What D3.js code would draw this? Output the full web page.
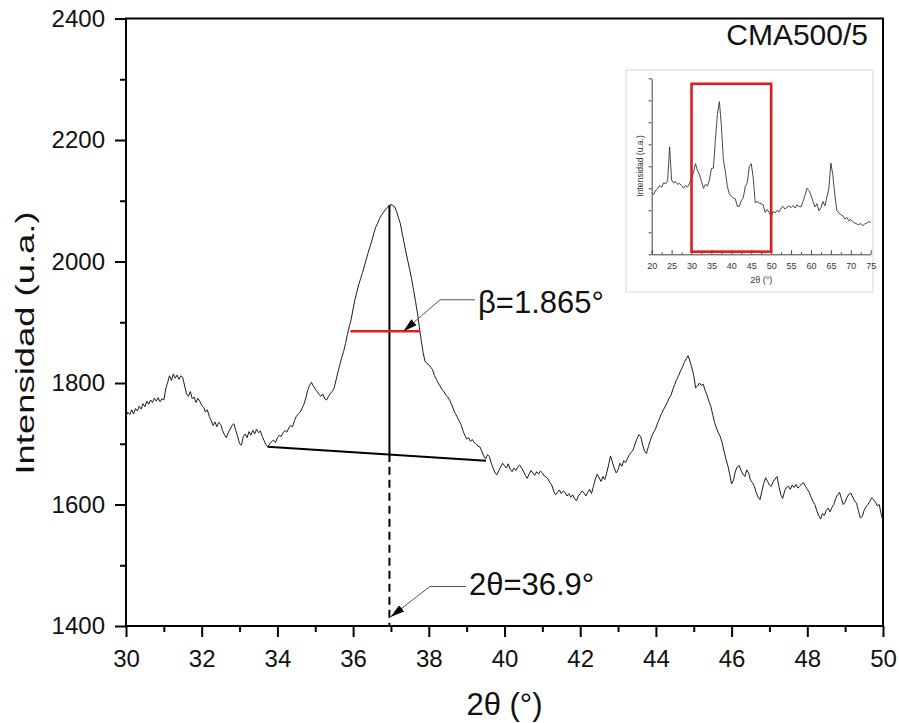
<!DOCTYPE html>
<html>
<head>
<meta charset="utf-8">
<script src="https://cdn.jsdelivr.net/npm/d3@7"></script>
<style>
body { margin: 0; background: #fff; }
svg { display: block; font-family: "Liberation Sans", Arial, sans-serif; }
</style>
</head>
<body>
<svg id="chart" width="899" height="723"></svg>
<script>
// XRD scan CMA500/5, 2theta 30-50, one reading every 0.05 deg
const scanStart = 30, scanStep = 0.05;
const intensity = [
  1745,1752,1748,1756,1749,1758,1754,1762,1757,1766,1761,1770,1765,1772,1768,1775,1770,1776,1769,1774,
  1772,1790,1801,1812,1804,1815,1808,1813,1806,1812,1809,1795,1782,1778,1786,1774,1777,1768,1775,1770,
  1763,1760,1752,1756,1745,1738,1730,1736,1728,1735,1732,1722,1715,1710,1718,1724,1730,1733,1722,1712,
  1700,1698,1712,1716,1710,1720,1714,1722,1716,1724,1718,1721,1712,1705,1698,1695,1700,1704,1706,1702,
  1710,1714,1712,1718,1722,1719,1726,1730,1728,1738,1745,1749,1752,1758,1765,1775,1788,1796,1801,1795,
  1790,1786,1781,1778,1782,1774,1772,1778,1783,1786,1792,1805,1818,1830,1842,1852,1865,1880,1893,1905,
  1922,1938,1950,1962,1972,1982,1993,2004,2015,2025,2035,2047,2057,2063,2071,2076,2081,2085,2089,2091,
  2094,2092,2090,2082,2072,2062,2045,2030,2014,2000,1985,1970,1952,1934,1915,1892,1870,1850,1836,1832,
  1830,1826,1822,1812,1806,1800,1795,1789,1786,1780,1777,1772,1765,1757,1750,1744,1738,1732,1722,1714,
  1708,1710,1704,1707,1702,1700,1696,1695,1688,1680,1675,1682,1679,1668,1660,1652,1649,1656,1662,1668,
  1664,1660,1667,1658,1654,1660,1656,1662,1665,1660,1655,1648,1643,1650,1656,1652,1648,1654,1650,1655,
  1652,1647,1645,1642,1636,1632,1622,1616,1620,1624,1618,1622,1620,1614,1618,1612,1616,1610,1606,1614,
  1618,1622,1619,1614,1620,1625,1618,1630,1642,1650,1644,1638,1646,1641,1652,1665,1680,1670,1660,1652,
  1657,1668,1663,1672,1669,1676,1682,1686,1690,1700,1708,1715,1712,1698,1688,1684,1695,1705,1714,1720,
  1726,1735,1742,1750,1756,1762,1768,1775,1780,1790,1798,1806,1812,1820,1826,1834,1840,1845,1836,1825,
  1812,1792,1795,1800,1796,1798,1788,1780,1770,1762,1748,1735,1726,1718,1712,1702,1688,1675,1664,1650,
  1634,1640,1655,1662,1664,1656,1650,1646,1657,1652,1640,1636,1630,1620,1612,1608,1622,1635,1644,1638,
  1632,1630,1638,1642,1646,1630,1616,1610,1622,1628,1630,1625,1632,1628,1633,1627,1630,1634,1636,1630,
  1625,1620,1612,1605,1600,1590,1582,1576,1585,1582,1590,1594,1588,1595,1600,1610,1616,1620,1610,1600,
  1604,1612,1617,1619,1612,1606,1602,1590,1578,1580,1590,1596,1600,1605,1611,1608,1604,1598,1600,1585,
  1572
];

// full scan shown in the inset, 20-75, every 0.5 deg
const insetStart = 20, insetStep = 0.5;
const insetIntensity = [
  1680,1672,1692,1700,1712,1705,1725,1720,1735,1889,
  1738,1725,1730,1718,1722,1712,1700,1712,1706,1722,
  1745,1772,1812,1780,1763,1732,1700,1718,1710,1738,
  1790,1792,1922,2035,2094,1985,1830,1777,1708,1675,
  1664,1655,1652,1618,1618,1644,1657,1708,1726,1798,
  1812,1748,1634,1640,1632,1630,1625,1590,1604,1590,
  1572,1595,1588,1600,1592,1610,1618,1605,1615,1620,
  1612,1622,1610,1625,1618,1615,1640,1668,1700,1690,
  1668,1640,1615,1630,1598,1612,1640,1620,1660,1700,
  1815,1760,1668,1600,1588,1580,1575,1560,1568,1552,
  1558,1548,1542,1538,1535,1540,1530,1538,1542,1548,
  1545
];

const xTicks = [30,32,34,36,38,40,42,44,46,48,50];
const xMinor = [31,33,35,37,39,41,43,45,47,49];
const yTicks = [1400,1600,1800,2000,2200,2400];
const yMinor = [1500,1700,1900,2100,2300];
const insetXTicks = [20,25,30,35,40,45,50,55,60,65,70,75];

// annotation values
const peakPos = 36.96, peakTop = 2093;
const baseline = [[33.74,1695],[39.51,1672]];
const fwhmLevel = 1885, fwhmRange = [35.93,37.77];
const solidEnd = 1670, dashEnd = 1662;
const betaLeader = [[39.22,1937],[38.30,1937],[37.33,1885]];
const betaText = {x: 39.3, y: 1915, label: "β=1.865°"};
const thetaLeader = [[38.98,1465],[38.03,1465],[36.99,1415]];
const thetaText = {x: 39.06, y: 1451, label: "2θ=36.9°"};
const zoomBox = {x0: 30, x1: 50, y0: 1412, y1: 2175};

const svg = d3.select("#chart");

const x = d3.scaleLinear().domain([30,50]).range([126,883]);
const y = d3.scaleLinear().domain([1400,2400]).range([626,18.5]);

const scan = intensity.map((v,i) => [scanStart + i*scanStep, v]);
const line = d3.line().x(d => x(d[0])).y(d => y(d[1]));

const defs = svg.append("defs");
defs.append("marker")
  .attr("id","head")
  .attr("markerUnits","userSpaceOnUse")
  .attr("viewBox","0 0 14 8")
  .attr("refX",14).attr("refY",4)
  .attr("markerWidth",14).attr("markerHeight",8)
  .attr("orient","auto")
  .append("path").attr("d","M0,0 L14,4 L0,8 Z").attr("fill","#000");

// axes
const xAxis = svg.append("g").attr("transform",`translate(0,${y(1400)})`)
  .call(d3.axisBottom(x).tickValues(xTicks).tickSize(11).tickPadding(13).tickFormat(d3.format("d")));
const xAxisMinor = svg.append("g").attr("transform",`translate(0,${y(1400)})`)
  .call(d3.axisBottom(x).tickValues(xMinor).tickSize(6).tickFormat(""));
const yAxis = svg.append("g").attr("transform",`translate(${x(30)},0)`)
  .call(d3.axisLeft(y).tickValues(yTicks).tickSize(11).tickPadding(10).tickFormat(d3.format("d")));
const yAxisMinor = svg.append("g").attr("transform",`translate(${x(30)},0)`)
  .call(d3.axisLeft(y).tickValues(yMinor).tickSize(6).tickFormat(""));

[xAxis,xAxisMinor,yAxis,yAxisMinor].forEach(g => {
  g.select(".domain").remove();
  g.selectAll(".tick line").attr("stroke","#000").attr("stroke-width",2);
  g.selectAll(".tick text").attr("fill","#111").style("font-size","24px")
    .style("font-family","'Liberation Sans', Arial, sans-serif");
});

svg.append("rect")
  .attr("x",x(30)).attr("y",y(2400))
  .attr("width",x(50)-x(30)).attr("height",y(1400)-y(2400))
  .attr("fill","none").attr("stroke","#000").attr("stroke-width",2);

// curve
svg.append("path").datum(scan)
  .attr("d",line).attr("fill","none").attr("stroke","#1c1c1c").attr("stroke-width",1);

// baseline + peak markers
svg.append("path").datum(baseline)
  .attr("d",line).attr("fill","none").attr("stroke","#000").attr("stroke-width",2);
svg.append("line")
  .attr("x1",x(peakPos)).attr("x2",x(peakPos))
  .attr("y1",y(peakTop)).attr("y2",y(solidEnd))
  .attr("stroke","#000").attr("stroke-width",2);
svg.append("line")
  .attr("x1",x(peakPos)).attr("x2",x(peakPos))
  .attr("y1",y(dashEnd)).attr("y2",y(1400))
  .attr("stroke","#000").attr("stroke-width",2).attr("stroke-dasharray","8,5");
svg.append("line")
  .attr("x1",x(fwhmRange[0])).attr("x2",x(fwhmRange[1]))
  .attr("y1",y(fwhmLevel)).attr("y2",y(fwhmLevel))
  .attr("stroke","#e02020").attr("stroke-width",2.5);

// callouts
[[betaLeader,betaText],[thetaLeader,thetaText]].forEach(([pts,t]) => {
  svg.append("path").datum(pts)
    .attr("d",line).attr("fill","none").attr("stroke","#555").attr("stroke-width",1)
    .attr("marker-end","url(#head)");
  svg.append("text")
    .attr("x",x(t.x)).attr("y",y(t.y))
    .attr("fill","#111").style("font-size","31px")
    .text(t.label);
});

svg.append("text")
  .attr("x",868).attr("y",45).attr("text-anchor","end")
  .attr("fill","#111").style("font-size","30px")
  .text("CMA500/5");

// axis titles
svg.append("text")
  .attr("x",x(40)).attr("y",715).attr("text-anchor","middle")
  .attr("fill","#111").style("font-size","31px")
  .text("2θ (°)");
svg.append("text")
  .attr("transform","translate(34,343) rotate(-90) scale(1.4,1)")
  .attr("text-anchor","middle")
  .attr("fill","#111").style("font-size","26px")
  .text("Intensidad (u.a.)");

// inset
const ix = d3.scaleLinear().domain([20,75]).range([651.7,870.7]);
const iy = d3.scaleLinear().domain([1400,2200]).range([254.3,78.3]);
const insetLine = d3.line().x(d => ix(d[0])).y(d => iy(d[1]));
const insetScan = insetIntensity.map((v,i) => [insetStart + i*insetStep, v]);

const inset = svg.append("g");
inset.append("rect")
  .attr("x",626).attr("y",70).attr("width",247).attr("height",222)
  .attr("fill","#fff").attr("stroke","#d8d8d8").attr("stroke-width",1);

const ixAxis = inset.append("g").attr("transform",`translate(0,${iy(1400)})`)
  .call(d3.axisBottom(ix).tickValues(insetXTicks).tickSize(-4).tickPadding(8).tickSizeOuter(0));
const ixMinor = inset.append("g").attr("transform",`translate(0,${iy(1400)})`)
  .call(d3.axisBottom(ix).tickValues(insetXTicks.slice(0,-1).map(v => v + 2.5)).tickSize(-2).tickFormat(""));
const iyAxis = inset.append("g").attr("transform",`translate(${ix(20)},0)`)
  .call(d3.axisLeft(iy).tickValues(d3.range(1400,2201,100)).tickSize(3).tickFormat("").tickSizeOuter(0));
ixMinor.select(".domain").remove();
[ixAxis,ixMinor,iyAxis].forEach(g => {
  g.selectAll("path,line").attr("stroke","#444").attr("stroke-width",1);
  g.selectAll("text").attr("fill","#333").style("font-size","9px")
    .style("font-family","'Liberation Sans', Arial, sans-serif");
});

inset.append("path").datum(insetScan)
  .attr("d",insetLine).attr("fill","none").attr("stroke","#333").attr("stroke-width",0.9);

inset.append("rect")
  .attr("x",ix(zoomBox.x0)).attr("y",iy(zoomBox.y1))
  .attr("width",ix(zoomBox.x1)-ix(zoomBox.x0)).attr("height",iy(zoomBox.y0)-iy(zoomBox.y1))
  .attr("fill","none").attr("stroke","#d42020").attr("stroke-width",2.6);

inset.append("text")
  .attr("x",ix(47.5)).attr("y",283).attr("text-anchor","middle")
  .attr("fill","#333").style("font-size","9px").text("2θ (°)");
inset.append("text")
  .attr("transform","translate(643,166) rotate(-90)")
  .attr("text-anchor","middle")
  .attr("fill","#333").style("font-size","8.5px").text("Intensidad (u.a.)");
</script>
</body>
</html>
